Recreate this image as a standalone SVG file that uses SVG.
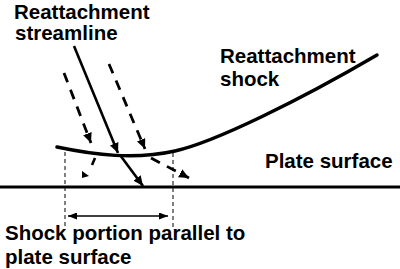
<svg xmlns="http://www.w3.org/2000/svg" width="400" height="269" viewBox="0 0 400 269">
<defs>
<style>
text{font-family:"Liberation Sans",Arial,sans-serif;font-weight:bold;font-size:20.5px;fill:#000}
.thick{fill:none;stroke:#000;stroke-width:2.6}
.dash{fill:none;stroke:#000;stroke-width:2.8;stroke-dasharray:10 8}
.thin{fill:none;stroke:#000;stroke-width:1;stroke-dasharray:4 3}
</style>
<marker id="ah" markerUnits="userSpaceOnUse" markerWidth="10" markerHeight="9" refX="10" refY="4.5" orient="auto">
<path d="M0,0 L10,4.5 L0,9 z" fill="#000"/>
</marker>
<marker id="ahs" markerUnits="userSpaceOnUse" markerWidth="9" markerHeight="7" refX="9" refY="3.5" orient="auto-start-reverse">
<path d="M0,0 L9,3.5 L0,7 z" fill="#000"/>
</marker>
</defs>
<rect width="400" height="269" fill="#fff"/>
<g id="plate">
<line x1="0" y1="187" x2="400" y2="187" stroke="#000" stroke-width="3"/>
</g>
<g id="shock">
<path d="M57,147 C95,155 135,160 175,151 C215,142 300,100 377,55" fill="none" stroke="#000" stroke-width="3.5" stroke-linecap="round"/>
</g>
<g id="connectors">
<line x1="74" y1="46" x2="118" y2="153" class="thick" marker-end="url(#ah)"/>
<line x1="120" y1="155" x2="143" y2="186" class="thick" marker-end="url(#ah)"/>
<line x1="64" y1="73" x2="91" y2="143" class="dash" marker-end="url(#ah)"/>
<line x1="109" y1="64" x2="145" y2="149" class="dash" marker-end="url(#ah)"/>
<line x1="95" y1="158" x2="92" y2="165" class="thick"/>
<polygon points="82,171 82,178 89,176" fill="#000"/>
<line x1="151" y1="158" x2="189" y2="178" class="dash" marker-end="url(#ah)"/>
<line x1="65" y1="152" x2="65" y2="226" class="thin"/>
<line x1="173" y1="153" x2="173" y2="227" class="thin"/>
<line x1="68" y1="216" x2="168" y2="216" stroke="#000" stroke-width="1.5" marker-start="url(#ahs)" marker-end="url(#ahs)"/>
</g>
<g id="label-streamline">
<text x="14" y="19">Reattachment</text>
<text x="15" y="40">streamline</text>
</g>
<g id="label-shock">
<text x="220" y="63">Reattachment</text>
<text x="220" y="86">shock</text>
</g>
<g id="label-plate">
<text x="265" y="168">Plate surface</text>
</g>
<g id="label-portion">
<text x="5" y="240">Shock portion parallel to</text>
<text x="5" y="264">plate surface</text>
</g>
</svg>
